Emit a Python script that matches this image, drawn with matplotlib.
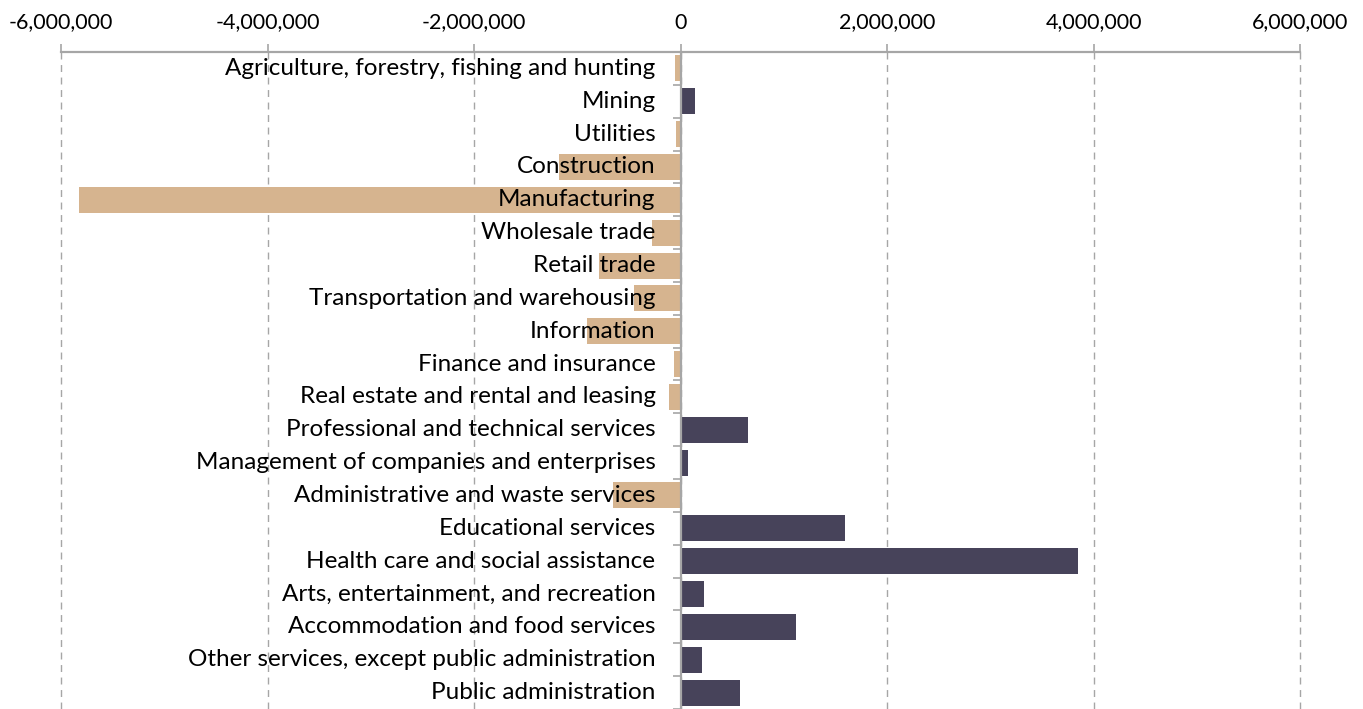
import numpy as np
import matplotlib
matplotlib.use("Agg")
import matplotlib.pyplot as plt
from matplotlib.ticker import FuncFormatter

# Industry labels (top to bottom)
industries = [
    "Agriculture, forestry, fishing and hunting",
    "Mining",
    "Utilities",
    "Construction",
    "Manufacturing",
    "Wholesale trade",
    "Retail trade",
    "Transportation and warehousing",
    "Information",
    "Finance and insurance",
    "Real estate and rental and leasing",
    "Professional and technical services",
    "Management of companies and enterprises",
    "Administrative and waste services",
    "Educational services",
    "Health care and social assistance",
    "Arts, entertainment, and recreation",
    "Accommodation and food services",
    "Other services, except public administration",
    "Public administration",
]

# Change values
changes = [
    -50000, 140000, -40000, -1180000, -5830000,
    -280000, -790000, -455000, -910000, -60000,
    -116000, 650000, 70000, -650000, 1590000,
    3850000, 230000, 1120000, 210000, 580000,
]

x_ticks = [-6000000, -4000000, -2000000, 0, 2000000, 4000000, 6000000]

neg_color = "#D6B48F"
pos_color = "#47435A"
grid_color = "#A6A6A6"

plt.rcParams['font.family'] = ['Lato', 'DejaVu Sans']

fig = plt.figure(figsize=(13.63, 7.09), dpi=100)
ax = fig.add_axes([61 / 1363, 0.0, (1300 - 61) / 1363, 1 - 52 / 709])

y = np.arange(len(industries))
colors = [neg_color if v < 0 else pos_color for v in changes]
ax.barh(y, changes, height=0.79, color=colors, zorder=2)

ax.set_ylim(len(industries) - 0.5, -0.5)
ax.set_xlim(x_ticks[0], x_ticks[-1])

# industry names sit just left of the zero line, over the bars
for i, name in enumerate(industries):
    ax.annotate(name, xy=(0, i), xytext=(-25, 0), textcoords='offset pixels',
                ha='right', va='center', fontsize=17.5, color='#000000', zorder=5)

# top axis with comma numbers
ax.xaxis.tick_top()
ax.set_xticks(x_ticks)
ax.xaxis.set_major_formatter(FuncFormatter(lambda v, p: f"{int(v):,}"))
ax.tick_params(axis='x', length=6, width=1.2, color=grid_color, pad=8,
               labelsize=15.5, labelcolor='#000000')
ax.grid(axis='x', linestyle=(0, (5, 4)), color=grid_color, linewidth=1, zorder=0)
ax.set_axisbelow(True)
for gl in ax.get_xgridlines():
    gl.set_clip_on(False)

# y axis on the zero line, minor ticks between categories
ax.spines['left'].set_position(('data', 0))
ax.spines['left'].set_color(grid_color)
ax.spines['left'].set_linewidth(1.6)
ax.spines['left'].set_zorder(3)
ax.spines['top'].set_color(grid_color)
ax.spines['top'].set_linewidth(1.6)
ax.spines['right'].set_visible(False)
ax.spines['bottom'].set_visible(False)
ax.set_yticks([])
ax.set_yticks(np.arange(len(industries)) + 0.5, minor=True)
ax.tick_params(axis='y', which='minor', length=6, width=1.2, color=grid_color,
               direction='out', labelleft=False)

fig.savefig("out.png", dpi=100)
